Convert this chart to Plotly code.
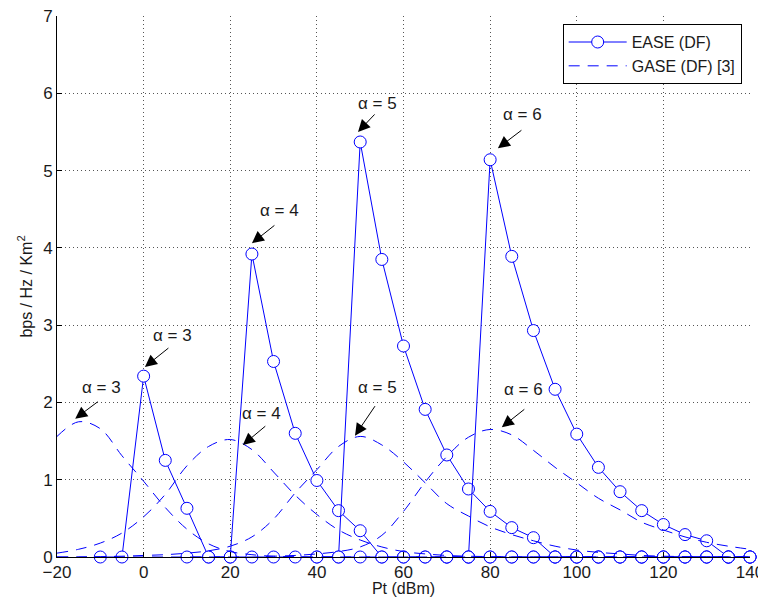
import plotly.graph_objects as go

# ---------------- data ----------------
# EASE (DF) series, one per path-loss exponent alpha
ease3_x = [-10, -5, 0, 5, 10, 15, 20, 25, 30, 35, 40, 45, 50, 55, 60, 65, 70, 75, 80, 85, 90, 95, 100, 105, 110, 115, 120, 125, 130, 135, 140]
ease3_y = [0, 0, 2.34, 1.25, 0.63, 0, 0, 0, 0, 0, 0, 0, 0, 0, 0, 0, 0, 0, 0, 0, 0, 0, 0, 0, 0, 0, 0, 0, 0, 0, 0]

ease4_x = [10, 15, 20, 25, 30, 35, 40, 45, 50, 55, 60, 65, 70, 75, 80, 85, 90, 95, 100, 105, 110, 115, 120, 125, 130, 135, 140]
ease4_y = [0, 0, 0, 3.92, 2.53, 1.60, 0.99, 0.60, 0.34, 0, 0, 0, 0, 0, 0, 0, 0, 0, 0, 0, 0, 0, 0, 0, 0, 0, 0]

ease5_x = [40, 45, 50, 55, 60, 65, 70, 75, 80, 85, 90, 95, 100, 105, 110, 115, 120, 125, 130, 135, 140]
ease5_y = [0, 0, 5.37, 3.85, 2.73, 1.91, 1.32, 0.88, 0.59, 0.38, 0.25, 0, 0, 0, 0, 0, 0, 0, 0, 0, 0]

ease6_x = [70, 75, 80, 85, 90, 95, 100, 105, 110, 115, 120, 125, 130, 135, 140]
ease6_y = [0, 0, 5.14, 3.89, 2.93, 2.17, 1.59, 1.16, 0.845, 0.60, 0.42, 0.29, 0.21, 0, 0]

# GASE (DF) [3] series (shared Pt grid)
gase_x = [-20, -15, -10, -5, 0, 5, 10, 15, 20, 25, 30, 35, 40, 45, 50, 55, 60, 65, 70, 75, 80, 85, 90, 95, 100, 105, 110, 115, 120, 125, 130, 135, 140]
gase3_y = [1.56, 1.75, 1.66, 1.31, 0.98, 0.64, 0.36, 0.17, 0.07, 0.03, 0.01, 0.005, 0, 0, 0, 0, 0, 0, 0, 0, 0, 0, 0, 0, 0, 0, 0, 0, 0, 0, 0, 0, 0]
gase4_y = [0.05, 0.10, 0.18, 0.31, 0.52, 0.81, 1.18, 1.43, 1.52, 1.39, 1.10, 0.80, 0.55, 0.35, 0.22, 0.13, 0.07, 0.04, 0.02, 0.01, 0.005, 0, 0, 0, 0, 0, 0, 0, 0, 0, 0, 0, 0]
gase5_y = [0, 0, 0.005, 0.01, 0.02, 0.03, 0.05, 0.08, 0.14, 0.26, 0.49, 0.83, 1.13, 1.43, 1.56, 1.45, 1.23, 0.96, 0.69, 0.53, 0.39, 0.29, 0.21, 0.14, 0.09, 0.06, 0.04, 0.02, 0.01, 0.005, 0, 0, 0]
gase6_y = [0, 0, 0, 0, 0, 0, 0, 0, 0, 0, 0.01, 0.02, 0.04, 0.07, 0.13, 0.28, 0.59, 0.97, 1.30, 1.55, 1.65, 1.58, 1.38, 1.16, 0.96, 0.76, 0.61, 0.45, 0.35, 0.26, 0.19, 0.14, 0.10]

x_ticks = [-20, 0, 20, 40, 60, 80, 100, 120, 140]
y_ticks = [0, 1, 2, 3, 4, 5, 6, 7]

# annotations: (label, head_x, head_y, tail_dx_px, tail_dy_px, text_x, text_y)
labels = ["α = 3", "α = 4", "α = 5", "α = 6", "α = 3", "α = 4", "α = 5", "α = 6"]
head_x = [0.3, 25.0, 49.5, 81.8, -15.8, 22.9, 48.8, 82.7]
head_y = [2.46, 4.06, 5.50, 5.29, 1.79, 1.45, 1.57, 1.68]
tail_dx = [25, 24, 18, 25, 24, 24, 21, 24]
tail_dy = [-20, -19, -19, -19, -18, -20, -31, -19]
text_x = [6.6, 31.3, 54.1, 87.4, -9.8, 27.3, 54.1, 87.8]
text_y = [2.86, 4.48, 5.87, 5.73, 2.19, 1.86, 2.19, 2.17]

BLUE = "#0000ff"
FONT = "Liberation Sans, Arial, Helvetica, sans-serif"
TXT = "#1a1a1a"

fig = go.Figure()

ease = [(ease3_x, ease3_y), (ease4_x, ease4_y), (ease5_x, ease5_y), (ease6_x, ease6_y)]
for i, (xs, ys) in enumerate(ease):
    fig.add_trace(go.Scatter(
        x=xs, y=ys, mode="lines+markers", name="EASE (DF)",
        legendgroup="ease", showlegend=(i == 0),
        line=dict(color=BLUE, width=1),
        marker=dict(symbol="circle", size=12, color="white",
                    line=dict(color=BLUE, width=1)),
        cliponaxis=False,
    ))

for i, ys in enumerate([gase3_y, gase4_y, gase5_y, gase6_y]):
    fig.add_trace(go.Scatter(
        x=gase_x, y=ys, mode="lines", name="GASE (DF) [3]",
        legendgroup="gase", showlegend=(i == 0),
        line=dict(color=BLUE, width=1, dash="11px,8px", shape="spline", smoothing=1.0),
    ))

annotations = []
for lab, hx, hy, dx, dy, tx, ty in zip(labels, head_x, head_y, tail_dx, tail_dy, text_x, text_y):
    annotations.append(dict(
        x=hx, y=hy, xref="x", yref="y", text="", showarrow=True,
        ax=dx, ay=dy, arrowhead=2, arrowsize=2.4, arrowwidth=1, arrowcolor="black",
        standoff=0, startstandoff=0,
    ))
    annotations.append(dict(
        x=tx, y=ty, xref="x", yref="y", text=lab, showarrow=False,
        font=dict(family=FONT, size=17, color=TXT),
        xanchor="center", yanchor="middle",
    ))

# page body has an 8px margin, so the figure is sized/offset to compensate
fig.update_layout(
    width=758, height=589,
    paper_bgcolor="white", plot_bgcolor="white",
    margin=dict(l=49, r=16, t=8, b=40),
    font=dict(family=FONT, size=16, color=TXT),
    showlegend=True,
    legend=dict(
        x=0.988, y=0.985, xanchor="right", yanchor="top",
        bgcolor="white", bordercolor="black", borderwidth=1,
        font=dict(family=FONT, size=16, color=TXT),
        tracegroupgap=0, itemwidth=58,
    ),
    annotations=annotations,
)

fig.update_xaxes(
    range=[-20, 140], tickvals=x_ticks, ticktext=[("−" + str(-v)) if v < 0 else str(v) for v in x_ticks],
    showline=True, linecolor="black", linewidth=1, mirror=False,
    ticks="inside", ticklen=5, tickcolor="black",
    showgrid=True, gridcolor="#555", gridwidth=1, griddash="1px,3px",
    zeroline=False, automargin=False, ticklabeloverflow="allow",
    tickfont=dict(family=FONT, size=17, color=TXT),
    title=dict(text="Pt (dBm)", font=dict(family=FONT, size=16, color=TXT), standoff=7),
)
fig.update_yaxes(
    range=[0, 7], tickvals=y_ticks,
    showline=True, linecolor="black", linewidth=1, mirror=False,
    ticks="inside", ticklen=5, tickcolor="black",
    showgrid=True, gridcolor="#555", gridwidth=1, griddash="1px,3px",
    zeroline=False, automargin=False, ticklabeloverflow="allow",
    tickfont=dict(family=FONT, size=17, color=TXT),
    title=dict(text="bps / Hz / Km<sup>2</sup>", font=dict(family=FONT, size=16, color=TXT), standoff=6),
)

fig.write_html("out.html")
